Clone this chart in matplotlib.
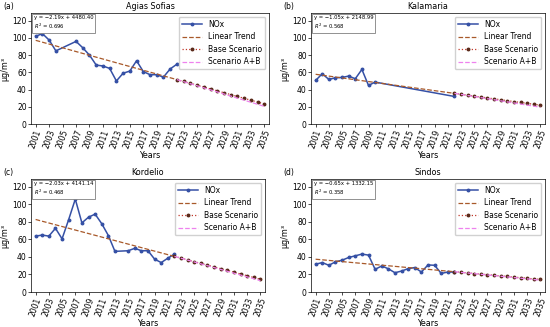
import numpy as np
import matplotlib

matplotlib.use("Agg")
import matplotlib.pyplot as plt

# --- data (NOx annual means, µg/m³) ---
stations = ["Agias Sofias", "Kalamaria", "Kordelio", "Sindos"]
panel_tags = ["(a)", "(b)", "(c)", "(d)"]

years_a = [2001, 2002, 2003, 2004, 2007, 2008, 2009, 2010, 2011, 2012, 2013,
           2014, 2015, 2016, 2017, 2018, 2019, 2020, 2021, 2022]
nox_a = [102, 105, 97.5, 85, 96, 88.6, 80, 68.5, 67.4, 64.6, 50,
         59, 61.5, 73.5, 61, 57.3, 57.3, 54.5, 64, 69.5]

years_b = [2001, 2002, 2003, 2004, 2005, 2006, 2007, 2008, 2009, 2010, 2022]
nox_b = [50.6, 58.4, 51.8, 53.7, 54.1, 55.7, 52.6, 63.4, 44.8, 48.7, 32]

years_c = [2001, 2002, 2003, 2004, 2005, 2006, 2007, 2008, 2009, 2010, 2011,
           2012, 2013, 2015, 2016, 2017, 2018, 2019, 2020, 2021, 2022]
nox_c = [63.8, 65, 63.8, 72.7, 60.7, 82.7, 106, 78.9, 85.4, 88.9, 78,
         64.5, 46.4, 47.1, 49.9, 47.1, 47.1, 37.5, 33.6, 38.6, 43.3]

years_d = list(range(2001, 2023))
nox_d = [31.7, 33.6, 30.5, 34.4, 36.3, 39.4, 41.3, 43.3, 42.1, 25.9, 29.7,
         26.5, 22, 23.9, 26.7, 27.9, 22.8, 30.9, 30.5, 21.2, 22.8, 22.8]

eq_texts = ["y = \u22122.19x + 4480.40", "y = \u22121.05x + 2148.99",
            "y = \u22122.03x + 4141.14", "y = \u22120.65x + 1332.15"]
r2_texts = ["0.696", "0.568", "0.468", "0.358"]

# scenario A+B value in 2035
ab_2035 = [20.5, 19.5, 13, 13.5]

scen_years = list(range(2022, 2036))
xticks = list(range(2001, 2036, 2))

series = [(years_a, nox_a), (years_b, nox_b), (years_c, nox_c), (years_d, nox_d)]

# axes boxes in pixels (left, top, right, bottom) on a 550x327 canvas
W, H = 550, 327
boxes = [(31, 13, 269, 124), (311, 13, 545, 124),
         (31, 179, 265, 292), (311, 179, 545, 292)]

plt.rcParams["font.family"] = "DejaVu Sans"
fig = plt.figure(figsize=(5.5, 3.27), dpi=100)

for i, (yrs, vals) in enumerate(series):
    l, t, r, b = boxes[i]
    ax = fig.add_axes([l / W, 1 - b / H, (r - l) / W, (b - t) / H])

    yrs = np.array(yrs)
    vals = np.array(vals)
    k, c0 = np.polyfit(yrs, vals, 1)
    trend_x = np.array([yrs[0], yrs[-1]])
    sx = np.array(scen_years)
    base = k * sx + c0

    ax.plot(yrs, vals, "-o", color="#3550a5", lw=1.1, ms=1.8, label="NOx")
    ax.plot(trend_x, k * trend_x + c0, "--", color="#a8592a", lw=0.9, label="Linear Trend")
    ax.plot(sx, base, ":", color="#c0392b", lw=0.9, marker="o", ms=1.8,
            mfc="#5a2a1a", mec="#5a2a1a", label="Base Scenario")
    ax.plot([sx[0], sx[-1]], [base[0], ab_2035[i]], "--", color="violet", lw=0.9,
            label="Scenario A+B")

    ax.set_xlim(2000.3, 2035.7)
    ax.set_ylim(0, 129)
    ax.set_yticks(range(0, 121, 20))
    ax.set_xticks(xticks)
    ax.set_xticklabels([str(x) for x in xticks], rotation=70, ha="center")
    ax.tick_params(labelsize=5.5, length=2, width=0.5, pad=1)
    for s in ax.spines.values():
        s.set_linewidth(0.5)

    ax.set_title(stations[i], fontsize=5.8, pad=3)
    ax.set_xlabel("Years", fontsize=5.8, labelpad=1)
    ax.set_ylabel("\u00b5g/m\u00b3", fontsize=5.8, labelpad=2)

    ax.text(0.012, 0.985, eq_texts[i] + "\n$R^2$ = " + r2_texts[i], transform=ax.transAxes,
            fontsize=3.8, va="top", ha="left", linespacing=1.3,
            bbox=dict(boxstyle="square,pad=0.35", fc="white", ec="gray", lw=0.6))

    ax.legend(loc="upper right", fontsize=5.5, handlelength=2.6, borderpad=0.4,
              labelspacing=0.45, framealpha=0.9, edgecolor="#cccccc", fancybox=True)

    fig.text((l - 28) / W, 1 - (t - 7) / H, panel_tags[i], fontsize=5.5, va="center", ha="left")

fig.savefig("out.png", dpi=100)
